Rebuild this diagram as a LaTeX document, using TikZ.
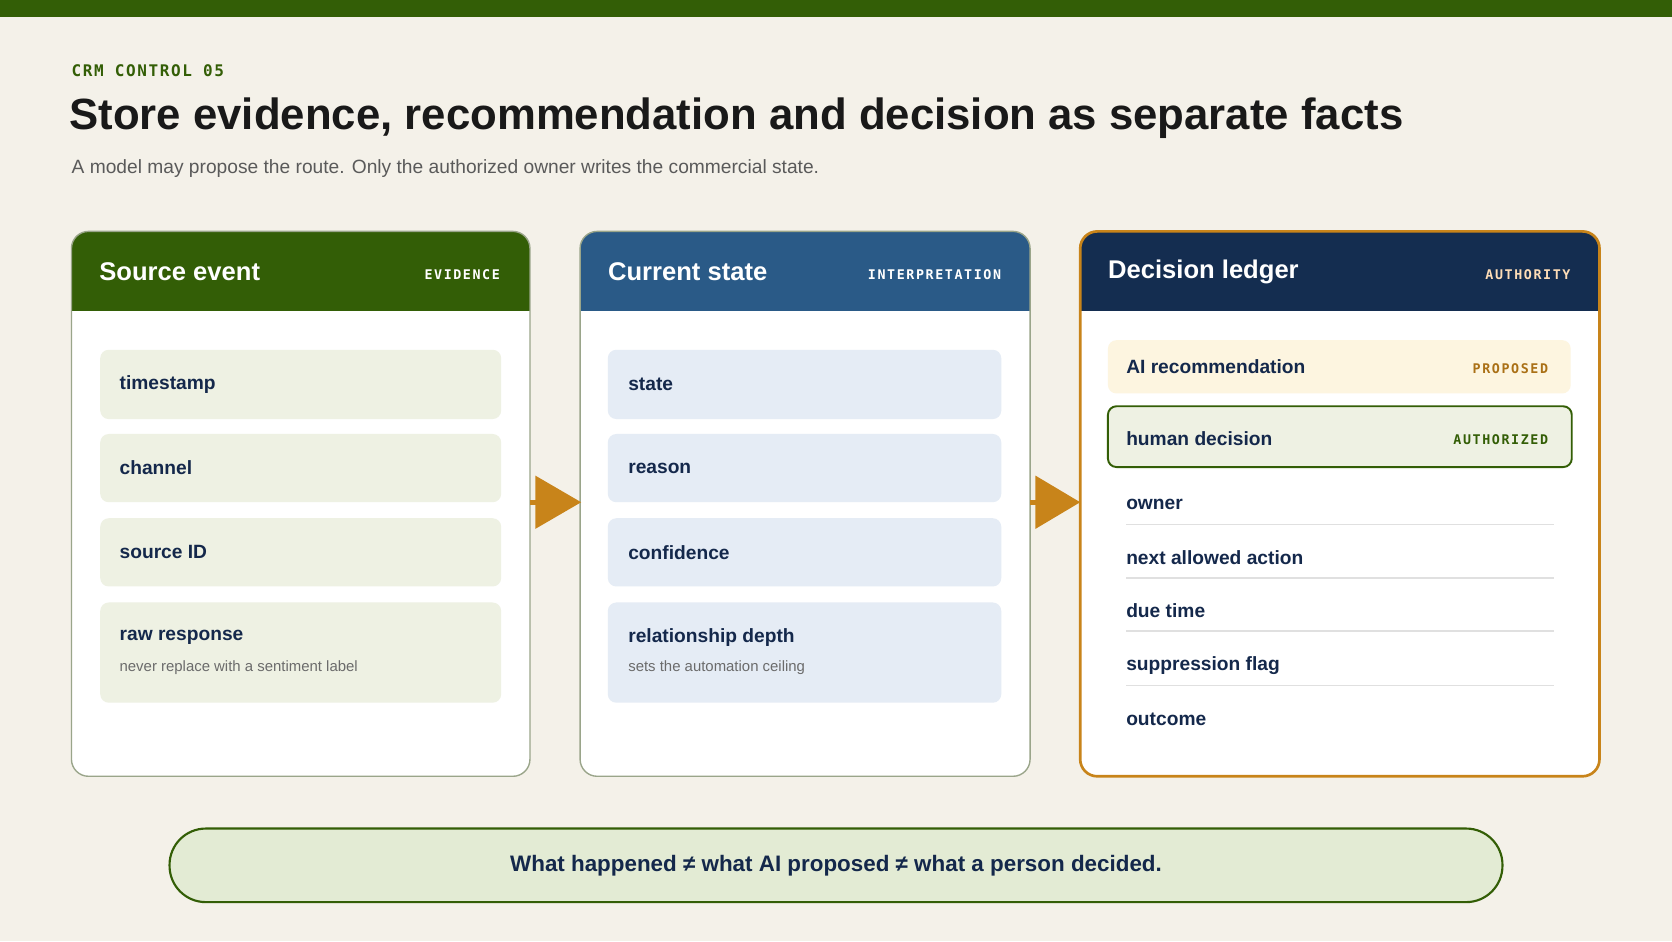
\documentclass[tikz,border=0pt]{standalone}
\usepackage{fontspec}
\setmainfont{Liberation Sans}
\newfontfamily\monof{DejaVu Sans Mono}
\definecolor{bg}{HTML}{F4F1E9}
\definecolor{grn}{HTML}{335E06}
\definecolor{blu}{HTML}{2A5A87}
\definecolor{nav}{HTML}{142D50}
\definecolor{txt}{HTML}{14284B}
\definecolor{org}{HTML}{C8841A}
\definecolor{gbox}{HTML}{EEF1E3}
\definecolor{bbox}{HTML}{E5ECF5}
\definecolor{ybox}{HTML}{FDF5E0}
\definecolor{pill}{HTML}{E3EBD4}
\definecolor{cbord}{HTML}{9AA58A}
\definecolor{gry}{HTML}{5A5A5A}
\begin{document}
\begin{tikzpicture}[x=1pt,y=-1pt,
 item/.style={font=\bfseries\fontsize{18}{20}\selectfont,text=txt,anchor=west,inner sep=0},
 sub/.style={font=\fontsize{14}{16}\selectfont,text=gry!90,anchor=west,inner sep=0},
 head/.style={font=\bfseries\fontsize{24}{26}\selectfont,text=white,anchor=west,inner sep=0},
 tag/.style={font=\monof\bfseries\fontsize{12.5}{14}\selectfont\addfontfeature{LetterSpace=12},anchor=east,inner sep=0},
 arr/.style={fill=org,draw=none}]
\useasboundingbox (0,0) rectangle (1568,882.5);
\fill[bg] (0,0) rectangle (1568,882.5);
\fill[grn] (0,0) rectangle (1568,16);
\node[anchor=west,inner sep=0,text=grn,font=\monof\bfseries\fontsize{15}{16}\selectfont\addfontfeature{LetterSpace=10}] (kick) at (67,66) {CRM CONTROL 05};
\node[anchor=west,inner sep=0,text=black!90,font=\bfseries\fontsize{41}{44}\selectfont] (title) at (65,111) {Store evidence, recommendation and decision as separate facts};
\node[anchor=west,inner sep=0,text=gry,font=\fontsize{18}{20}\selectfont] (subt) at (67,158) {A model may propose the route. Only the authorized owner writes the commercial state.};
% cards
\newcommand\card[7]{% x1,x2,color,border,bw,name,...
  \begin{scope}
  \clip[rounded corners=16] (#1,217) rectangle (#2,728);
  \fill[white] (#1,217) rectangle (#2,728);
  \fill[#3] (#1,217) rectangle (#2,292);
  \end{scope}
  \draw[#4,line width=#5,rounded corners=16] (#1,217) rectangle (#2,728);
  \node[head] (#6) at (#1+26,255) {#7};}
\card{67}{497}{grn}{cbord}{1.3pt}{c1}{Source event}
\node[tag,text=white] (t1) at (469,258) {EVIDENCE};
\card{544}{966}{blu}{cbord}{1.3pt}{c2}{Current state}
\node[tag,text=white] (t2) at (939,258) {INTERPRETATION};
\card{1013}{1500}{nav}{org}{2.5pt}{c3}{Decision ledger}
\node[tag,text=ybox!60!orange!60] (t3) at (1473,258) {AUTHORITY};
% items
\foreach \nm/\a/\b/\t in {s1/328/393/timestamp,s2/407/471/channel,s3/486/550/source ID}{
  \fill[gbox,rounded corners=8] (94,\a) rectangle (470,\b);
  \node[item] (\nm) at (112,{(\a+\b)/2}) {\t};}
\fill[gbox,rounded corners=8] (94,565) rectangle (470,659);
\node[item] (s4) at (112,598) {raw response};
\node[sub] (s4s) at (112,626) {never replace with a sentiment label};
\foreach \nm/\a/\b/\t in {m1/328/393/state,m2/407/471/reason,m3/486/550/confidence}{
  \fill[bbox,rounded corners=8] (570,\a) rectangle (939,\b);
  \node[item] (\nm) at (589,{(\a+\b)/2}) {\t};}
\fill[bbox,rounded corners=8] (570,565) rectangle (939,659);
\node[item] (m4) at (589,598) {relationship depth};
\node[sub] (m4s) at (589,626) {sets the automation ceiling};
% ledger
\fill[ybox,rounded corners=8] (1039,319) rectangle (1473,369);
\node[item] (ai) at (1056,344) {AI recommendation};
\node[tag,text=org!85!black] (pr) at (1452,346) {PROPOSED};
\draw[grn,line width=1.8pt,fill=gbox,rounded corners=8] (1039,381) rectangle (1474,438);
\node[item] (hd) at (1056,411) {human decision};
\node[tag,text=grn] (au) at (1452,412) {AUTHORIZED};
\foreach \nm/\y/\t in {r1/473/owner,r2/523/next allowed action,r3/573/due time,r4/624/suppression flag}{
  \node[item] (\nm) at (1056,\y) {\t};
  \draw[black!12,line width=1.5pt] (1056,\y+19) -- (1457,\y+19);}
\node[item] (r5) at (1056,675) {outcome};
% arrows
\fill[org] (497,468.5) rectangle (503,473.5);
\fill[org] (502,446) -- (545,471) -- (502,496) -- cycle;
\fill[org] (966,468.5) rectangle (972,473.5);
\fill[org] (971,446) -- (1013,471) -- (971,496) -- cycle;
% pill
\draw[grn,line width=2pt,fill=pill,rounded corners=34] (159,777) rectangle (1409,846);
\node[font=\bfseries\fontsize{21}{24}\selectfont,text=txt,inner sep=0] (pt) at (784,812) {What happened ≠ what AI proposed ≠ what a person decided.};
\end{tikzpicture}
\end{document}
